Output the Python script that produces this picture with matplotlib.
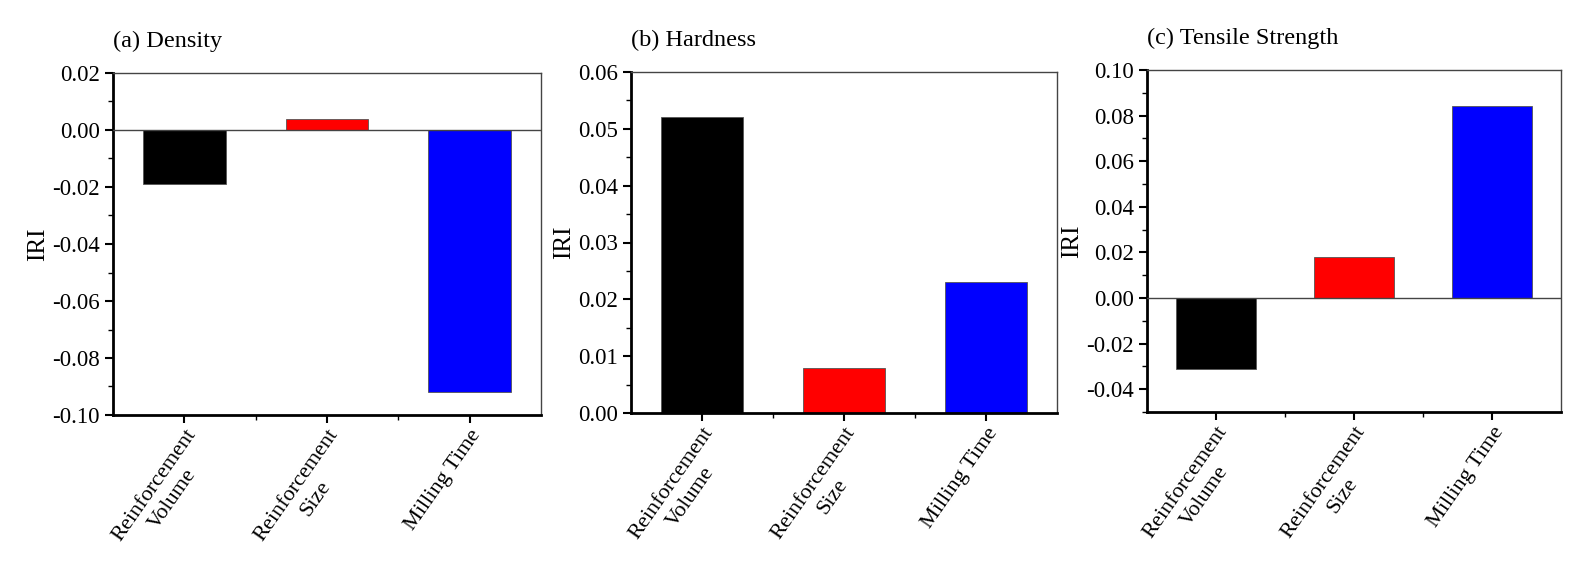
import matplotlib
matplotlib.use("Agg")
import matplotlib.pyplot as plt
from matplotlib.ticker import MultipleLocator, FuncFormatter, AutoMinorLocator
from matplotlib.transforms import ScaledTranslation

plt.rcParams['font.family'] = ['Liberation Serif', 'DejaVu Serif']
plt.rcParams['axes.unicode_minus'] = False

categories = ["Reinforcement\nVolume", "Reinforcement\nSize", "Milling Time"]
colors = ["#000000", "#FF0000", "#0000FF"]

density = [-0.019, 0.004, -0.092]
hardness = [0.052, 0.008, 0.023]
tensile = [-0.031, 0.018, 0.084]

titles = ["(a) Density", "(b) Hardness", "(c) Tensile Strength"]
ylims = [(-0.10, 0.02), (0.0, 0.06), (-0.05, 0.10)]
ysteps = [0.02, 0.01, 0.02]
series = [density, hardness, tensile]

W, H = 1596, 565
fig = plt.figure(figsize=(W / 100, H / 100), dpi=100)

# axes boxes in pixels: left, top, right, bottom
boxes = [(113, 73, 541, 415), (631, 72, 1057, 413), (1147, 70, 1561, 412)]


def fmt(v, pos):
    v = round(v, 4)
    if abs(v) < 1e-9:
        v = 0.0
    return "%.2f" % v


for i, (box, vals, title, ylim, ystep) in enumerate(zip(boxes, series, titles, ylims, ysteps)):
    l, t, r, b = box
    ax = fig.add_axes([l / W, 1 - b / H, (r - l) / W, (b - t) / H])
    x = list(range(len(categories)))
    ax.bar(x, vals, width=0.58, color=colors, edgecolor="#555555", linewidth=0.6, zorder=2)
    ax.set_xlim(-0.5, 2.5)
    ax.set_ylim(*ylim)
    if ylim[0] < 0 < ylim[1]:
        ax.axhline(0, color="#444444", linewidth=1.0, zorder=3)
    ax.yaxis.set_major_locator(MultipleLocator(ystep))
    ax.yaxis.set_minor_locator(AutoMinorLocator(2))
    ax.yaxis.set_major_formatter(FuncFormatter(fmt))
    ax.set_xticks(x)
    ax.set_xticks([0.5, 1.5], minor=True)
    ax.set_xticklabels(categories, rotation=55, ha='right', va='top',
                       rotation_mode='anchor', fontsize=16, multialignment='center',
                       linespacing=1.3)
    off = ScaledTranslation(20 / 100, -5 / 100, fig.dpi_scale_trans)
    for lab in ax.get_xticklabels():
        lab.set_transform(lab.get_transform() + off)
    ax.tick_params(axis='both', which='major', direction='out', length=6, width=1.5,
                   labelsize=16.5, top=False, right=False)
    ax.tick_params(axis='both', which='minor', direction='out', length=3.5, width=1.0,
                   top=False, right=False)
    ax.tick_params(axis='x', which='major', labelsize=16, pad=2)
    for s in ['left', 'bottom']:
        ax.spines[s].set_linewidth(2.0)
        ax.spines[s].set_color('black')
    for s in ['top', 'right']:
        ax.spines[s].set_linewidth(1.0)
        ax.spines[s].set_color('#444444')
    ax.set_ylabel("IRI", fontsize=18, labelpad=2)
    ax.set_title(title, loc='left', fontsize=17.5, pad=19)

fig.savefig("out.png", dpi=100)
